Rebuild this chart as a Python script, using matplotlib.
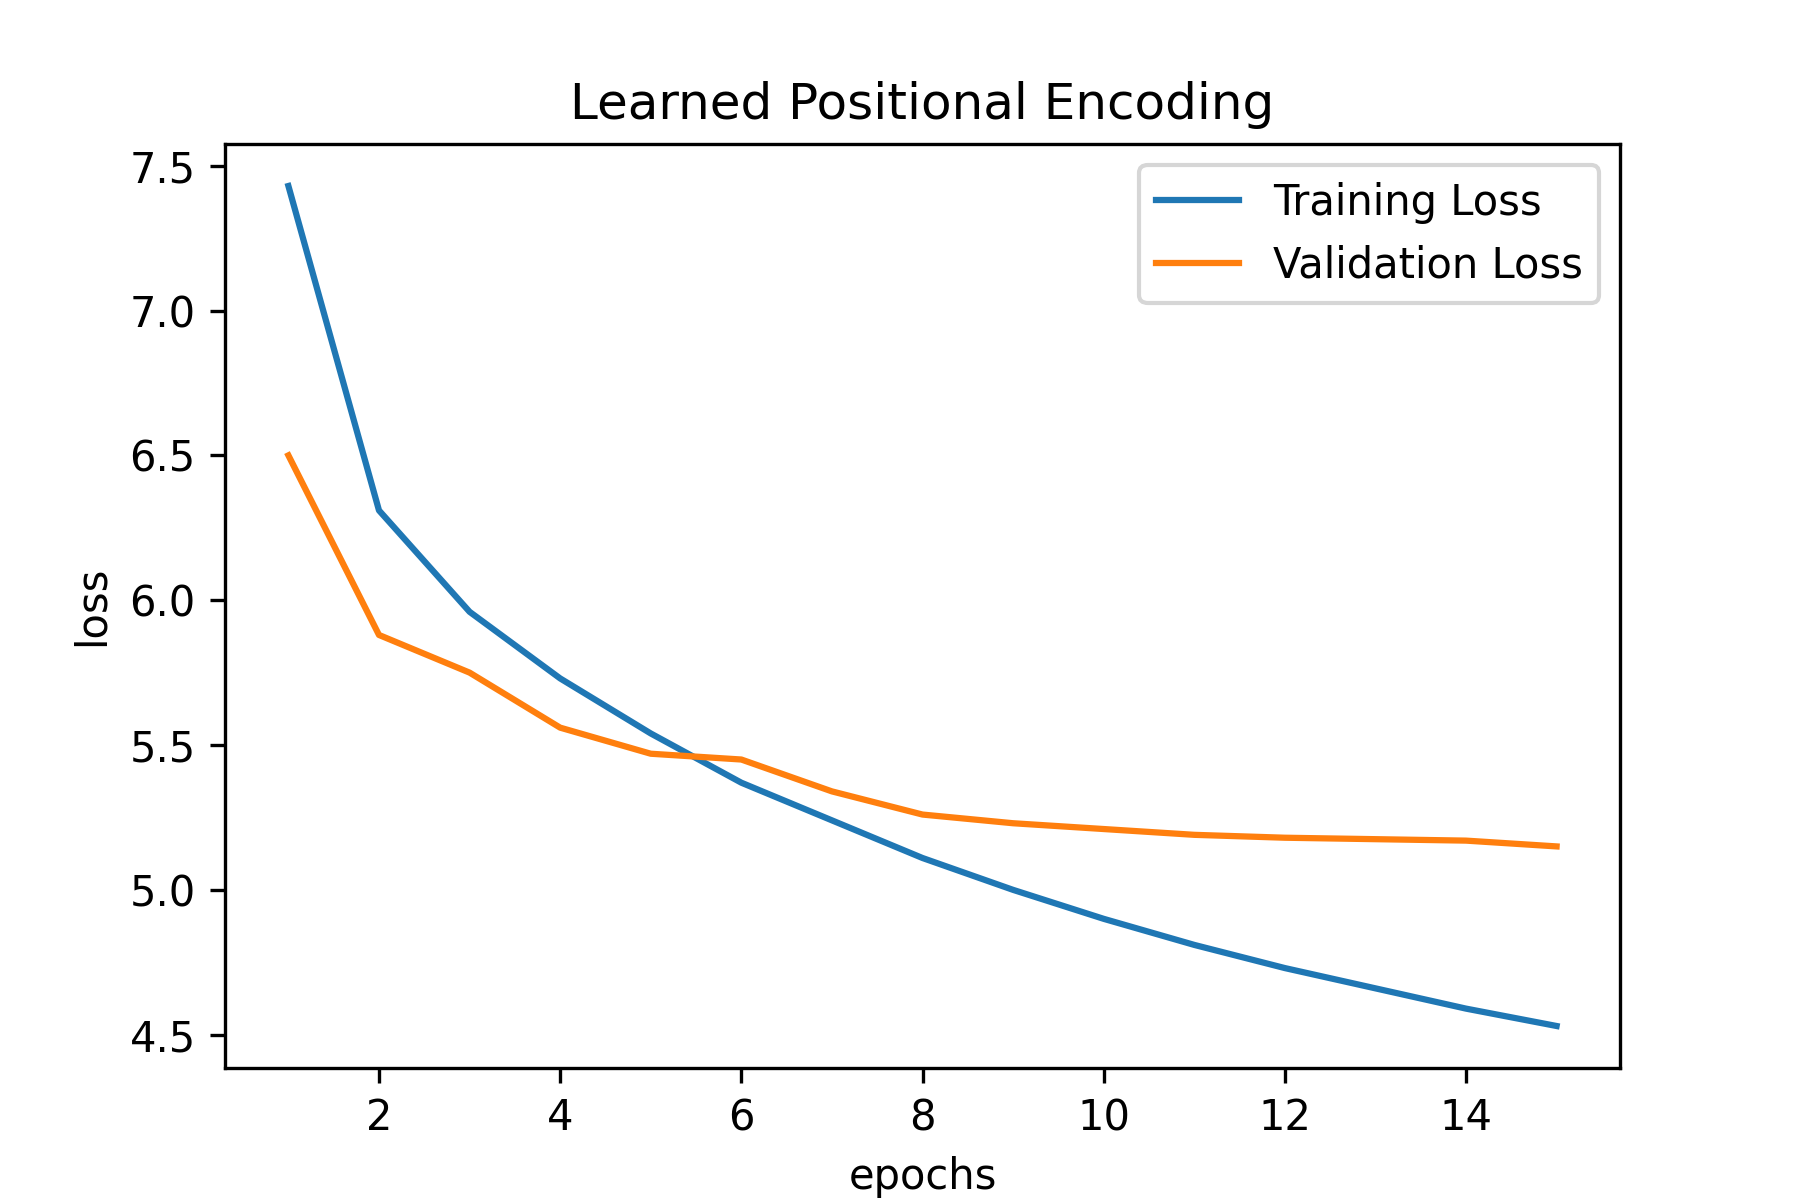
import matplotlib
matplotlib.use("Agg")
import matplotlib.pyplot as plt

# ------------ Data ------------
epochs = list(range(1, 16))
train_loss = [7.43, 6.31, 5.96, 5.73, 5.54, 5.37, 5.24, 5.11, 5.00, 4.90,
              4.81, 4.73, 4.66, 4.59, 4.53]
val_loss = [6.50, 5.88, 5.75, 5.56, 5.47, 5.45, 5.34, 5.26, 5.23, 5.21,
            5.19, 5.18, 5.175, 5.17, 5.15]

# ------------ Plot ------------
fig, ax = plt.subplots(figsize=(6, 4))
ax.plot(epochs, train_loss, label="Training Loss")
ax.plot(epochs, val_loss, label="Validation Loss")
ax.set_title("Learned Positional Encoding")
ax.set_xlabel("epochs")
ax.set_ylabel("loss")
ax.legend()
fig.savefig("out.png", dpi=300)
plt.close(fig)
